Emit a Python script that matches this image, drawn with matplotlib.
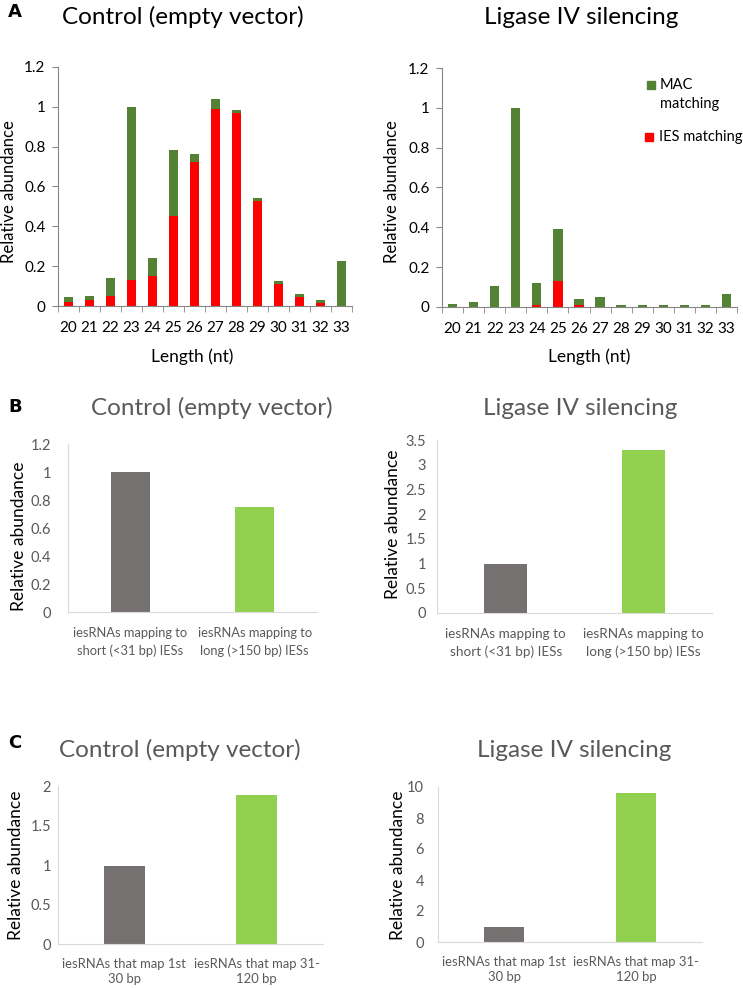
import matplotlib
matplotlib.use("Agg")
import matplotlib.pyplot as plt
from matplotlib.patches import Rectangle
import numpy as np

plt.rcParams['font.family'] = ['Lato', 'DejaVu Sans']

W, H = 743, 988

# ---- data ----
lengths = [20, 21, 22, 23, 24, 25, 26, 27, 28, 29, 30, 31, 32, 33]
ctrl_total = [0.044, 0.052, 0.139, 1.0, 0.243, 0.782, 0.765, 1.039, 0.982, 0.542, 0.124, 0.06, 0.029, 0.228]
ctrl_ies = [0.02, 0.029, 0.052, 0.133, 0.149, 0.453, 0.725, 0.99, 0.967, 0.525, 0.109, 0.044, 0.013, 0.0]
lig_total = [0.017, 0.025, 0.106, 1.0, 0.121, 0.394, 0.042, 0.049, 0.008, 0.008, 0.008, 0.008, 0.008, 0.065]
lig_ies = [0.0, 0.0, 0.0, 0.0, 0.008, 0.129, 0.008, 0.0, 0.0, 0.0, 0.0, 0.0, 0.0, 0.0]

b_labels = ['iesRNAs mapping to\nshort (<31 bp) IESs', 'iesRNAs mapping to\nlong (>150 bp) IESs']
b_ctrl = [1.0, 0.75]
b_lig = [1.0, 3.29]

c_labels = ['iesRNAs that map 1st\n30 bp', 'iesRNAs that map 31-\n120 bp']
c_ctrl = [0.99, 1.89]
c_lig = [1.0, 9.63]

MAC_GREEN = '#548235'
IES_RED = '#FF0000'
GRAY_BAR = '#767171'
LIGHT_GREEN = '#92D050'
TXT_GRAY = '#595959'

fig = plt.figure(figsize=(W / 100, H / 100), dpi=100)


def ax_px(left, top, right, bottom):
    return fig.add_axes([left / W, 1 - bottom / H, (right - left) / W, (bottom - top) / H])


def ftext(x, y, s, **kw):
    # text placed in pixel coords from top-left
    return fig.text(x / W, 1 - y / H, s, ha=kw.pop('ha', 'center'), va=kw.pop('va', 'center'), **kw)


def panel_a(ax, total, ies, ymax=1.2):
    x = np.arange(len(lengths))
    mac = np.array(total) - np.array(ies)
    ax.bar(x, ies, width=0.44, color=IES_RED)
    ax.bar(x, mac, bottom=ies, width=0.44, color=MAC_GREEN)
    ax.set_xlim(-0.5, len(lengths) - 0.5)
    ax.set_ylim(0, ymax)
    ax.set_yticks([0, 0.2, 0.4, 0.6, 0.8, 1.0, 1.2])
    ax.set_yticklabels(['0', '0.2', '0.4', '0.6', '0.8', '1', '1.2'])
    ax.set_xticks(x)
    ax.set_xticklabels([str(v) for v in lengths])
    ax.set_xticks(np.arange(-0.5, len(lengths)), minor=True)
    ax.tick_params(axis='x', which='major', length=0, pad=11, labelsize=11)
    ax.tick_params(axis='x', which='minor', length=4, color='#868686', direction='out')
    ax.tick_params(axis='y', length=4, color='#868686', labelsize=11, pad=5)
    for s in ['top', 'right']:
        ax.spines[s].set_visible(False)
    for s in ['left', 'bottom']:
        ax.spines[s].set_color('#868686')


def panel_bc(ax, labels, vals, ymax, yticks, ytl, xsize, ypad, xpad, lsp):
    x = np.arange(2)
    ax.bar(x, vals, width=0.31, color=[GRAY_BAR, LIGHT_GREEN])
    ax.set_xlim(-0.5, 1.5)
    ax.set_ylim(0, ymax)
    ax.set_yticks(yticks)
    ax.set_yticklabels(ytl)
    ax.set_xticks(x)
    ax.set_xticklabels(labels, linespacing=lsp)
    ax.tick_params(axis='both', length=0, labelsize=10.5, labelcolor=TXT_GRAY)
    ax.tick_params(axis='x', pad=xpad, labelsize=xsize)
    ax.tick_params(axis='y', pad=ypad)
    for s in ['top', 'right']:
        ax.spines[s].set_visible(False)
    for s in ['left', 'bottom']:
        ax.spines[s].set_color('#D9D9D9')


# ---- panel A ----
ax1 = ax_px(58, 67, 352, 306)
panel_a(ax1, ctrl_total, ctrl_ies)
ax2 = ax_px(442, 68, 737, 307)
panel_a(ax2, lig_total, lig_ies)

# legend drawn by hand (MAC square sits on first line of its label)
for (sx, sy, c) in [(647, 85, MAC_GREEN), (645, 137, IES_RED)]:
    fig.patches.append(Rectangle(((sx) / W, 1 - (sy + 4) / H), 8 / W, 8 / H,
                                 transform=fig.transFigure, color=c, figure=fig))
ftext(660, 85, 'MAC', fontsize=10.5, ha='left')
ftext(660, 104, 'matching', fontsize=10.5, ha='left')
ftext(659, 137, 'IES matching', fontsize=10.5, ha='left')

ftext(183, 17, 'Control (empty vector)', fontsize=17.5)
ftext(581, 17, 'Ligase IV silencing', fontsize=17.5)
ftext(8, 12, 'A', fontsize=13, fontweight='bold', ha='left', family='DejaVu Sans')
ftext(192, 357, 'Length (nt)', fontsize=12.5)
ftext(589, 357, 'Length (nt)', fontsize=12.5)
ftext(9, 192, 'Relative abundance', fontsize=12, rotation=90)
ftext(392, 192, 'Relative abundance', fontsize=12, rotation=90)

# ---- panel B ----
ax3 = ax_px(68, 444, 317, 612)
panel_bc(ax3, b_labels, b_ctrl, 1.2, [0, 0.2, 0.4, 0.6, 0.8, 1.0, 1.2],
         ['0', '0.2', '0.4', '0.6', '0.8', '1', '1.2'], 9.3, 12, 11, 1.45)
ax4 = ax_px(437, 440, 712, 613)
panel_bc(ax4, b_labels, b_lig, 3.5, [0, 0.5, 1, 1.5, 2, 2.5, 3, 3.5],
         ['0', '0.5', '1', '1.5', '2', '2.5', '3', '3.5'], 9.7, 8, 11, 1.45)
ftext(212, 408, 'Control (empty vector)', fontsize=17.5, color=TXT_GRAY)
ftext(580, 408, 'Ligase IV silencing', fontsize=17.5, color=TXT_GRAY)
ftext(8, 407, 'B', fontsize=13, fontweight='bold', ha='left', family='DejaVu Sans')
ftext(19, 536, 'Relative abundance', fontsize=12.5, rotation=90)
ftext(393, 524, 'Relative abundance', fontsize=12.5, rotation=90)

# ---- panel C ----
ax5 = ax_px(58, 786, 323, 944)
panel_bc(ax5, c_labels, c_ctrl, 2, [0, 0.5, 1, 1.5, 2], ['0', '0.5', '1', '1.5', '2'], 9.4, 5, 10, 1.35)
ax6 = ax_px(438, 787, 702, 942)
panel_bc(ax6, c_labels, c_lig, 10, [0, 2, 4, 6, 8, 10], ['0', '2', '4', '6', '8', '10'], 9.4, 10, 10, 1.35)
ftext(180, 750, 'Control (empty vector)', fontsize=17.5, color=TXT_GRAY)
ftext(574, 750, 'Ligase IV silencing', fontsize=17.5, color=TXT_GRAY)
ftext(8, 743, 'C', fontsize=13, fontweight='bold', ha='left', family='DejaVu Sans')
ftext(16, 865, 'Relative abundance', fontsize=12.5, rotation=90)
ftext(398, 865, 'Relative abundance', fontsize=12.5, rotation=90)

fig.savefig('out.png', dpi=100)
